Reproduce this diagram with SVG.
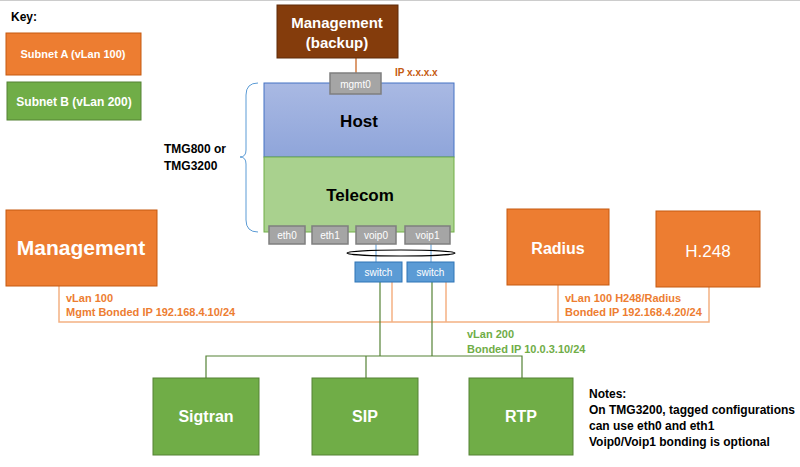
<svg xmlns="http://www.w3.org/2000/svg" width="800" height="467" viewBox="0 0 800 467">
<defs>
<linearGradient id="hostg" x1="0" y1="0" x2="0" y2="1"><stop offset="0" stop-color="#A9B9E3"/><stop offset="1" stop-color="#8FA5DA"/></linearGradient>
</defs>
<style>
text{font-family:"Liberation Sans",Arial,sans-serif}
.b{font-weight:bold}
.or{fill:#ED7D31;stroke:#C55A11;stroke-width:1}
.gr{fill:#70AD47;stroke:#548235;stroke-width:1}
.port{fill:#A5A5A5;stroke:#7F7F7F;stroke-width:1.5}
.sw{fill:#5B9BD5;stroke:#2E75B6;stroke-width:1}
.wt{fill:#fff}
.ol{stroke:#F4B183;stroke-width:1.5;fill:none}
.gl{stroke:#548235;stroke-width:1.2;fill:none}
.bl{stroke:#5B9BD5;stroke-width:1;fill:none}
.ot{fill:#ED7D31;font-size:11px;font-weight:bold}
.gt{fill:#70AD47;font-size:11px;font-weight:bold}
</style>
<rect width="800" height="467" fill="#fff"/>
<line x1="0" y1="0.5" x2="800" y2="0.5" stroke="#ccc"/>
<g id="key">
<text x="11" y="21" font-size="12" class="b">Key:</text>
<rect x="6" y="33" width="135" height="42" class="or"/>
<text x="73" y="58" font-size="11" class="b wt" text-anchor="middle">Subnet A (vLan 100)</text>
<rect x="7" y="82" width="134" height="38" class="gr"/>
<text x="74" y="106" font-size="12" class="b wt" text-anchor="middle">Subnet B (vLan 200)</text>
</g>
<g id="connectors">
<line x1="356" y1="58" x2="356" y2="73" stroke="#C55A11" stroke-width="1.2"/>
<path d="M258,83 Q246,83 246,95 V150 Q246,157 240,157 Q246,157 246,164 V220 Q246,232 258,232" class="bl"/>
<line x1="376" y1="244" x2="376" y2="262" class="bl"/>
<line x1="431" y1="244" x2="431" y2="262" class="bl"/>
<ellipse cx="401" cy="253" rx="54" ry="3" fill="none" stroke="#000" stroke-width="1.2"/>
<path d="M59,286 V322 H709 V287" class="ol"/>
<line x1="558" y1="285" x2="558" y2="322" class="ol"/>
<line x1="392" y1="282" x2="392" y2="322" class="ol"/>
<line x1="446" y1="282" x2="446" y2="322" class="ol"/>
<line x1="380" y1="282" x2="380" y2="356" class="gl"/>
<line x1="432" y1="282" x2="432" y2="356" class="gl"/>
<path d="M206,378 V356 H522 V378" class="gl"/>
<line x1="366" y1="356" x2="366" y2="378" class="gl"/>
</g>
<g id="backup">
<rect x="277" y="5" width="121" height="53" fill="#843C0C" stroke="#5E2A08"/>
<text x="337" y="28" font-size="15" class="b wt" text-anchor="middle">Management</text>
<text x="337" y="48" font-size="15" class="b wt" text-anchor="middle">(backup)</text>
</g>
<text x="395" y="76" font-size="10" class="b" fill="#C55A11">IP x.x.x.x</text>
<g id="host">
<rect x="264" y="83" width="190" height="74" fill="url(#hostg)" stroke="#4472C4" stroke-width="1"/>
<text x="359" y="127" font-size="17" class="b" text-anchor="middle">Host</text>
</g>
<g id="telecom">
<rect x="264" y="157" width="190" height="75" fill="#A9D18E" stroke="#70AD47" stroke-width="1"/>
<text x="360" y="201" font-size="17" class="b" text-anchor="middle">Telecom</text>
</g>
<text x="164" y="153" font-size="12" class="b">TMG800 or</text>
<text x="164" y="170" font-size="12" class="b">TMG3200</text>
<g id="mgmt0"><rect x="330" y="73" width="51" height="21" class="port"/><text x="355.5" y="88" font-size="10" class="wt" text-anchor="middle">mgmt0</text></g>
<g id="eth0"><rect x="269" y="226" width="36" height="18" class="port"/><text x="287" y="239" font-size="10" class="wt" text-anchor="middle">eth0</text></g>
<g id="eth1"><rect x="312" y="226" width="36" height="18" class="port"/><text x="330" y="239" font-size="10" class="wt" text-anchor="middle">eth1</text></g>
<g id="voip0"><rect x="356" y="226" width="40" height="18" class="port"/><text x="376" y="239" font-size="10" class="wt" text-anchor="middle">voip0</text></g>
<g id="voip1"><rect x="405" y="226" width="45" height="18" class="port"/><text x="427.5" y="239" font-size="10" class="wt" text-anchor="middle">voip1</text></g>
<g id="switch1"><rect x="355" y="262" width="47" height="20" class="sw"/><text x="378.5" y="276" font-size="10" class="wt" text-anchor="middle">switch</text></g>
<g id="switch2"><rect x="407" y="262" width="47" height="20" class="sw"/><text x="430.5" y="276" font-size="10" class="wt" text-anchor="middle">switch</text></g>
<g id="management"><rect x="6" y="210" width="151" height="76" class="or"/><text x="81" y="255" font-size="21" class="b wt" text-anchor="middle">Management</text></g>
<g id="radius"><rect x="507" y="209" width="102" height="76" class="or"/><text x="558" y="254" font-size="16" class="b wt" text-anchor="middle">Radius</text></g>
<g id="h248"><rect x="656" y="211" width="104" height="76" class="or"/><text x="708" y="257" font-size="17" class="wt" text-anchor="middle">H.248</text></g>
<g id="sigtran"><rect x="153" y="378" width="106" height="77" class="gr"/><text x="206" y="422" font-size="16" class="b wt" text-anchor="middle">Sigtran</text></g>
<g id="sip"><rect x="312" y="378" width="106" height="77" class="gr"/><text x="365" y="422" font-size="16" class="b wt" text-anchor="middle">SIP</text></g>
<g id="rtp"><rect x="469" y="378" width="104" height="77" class="gr"/><text x="521" y="422" font-size="16" class="b wt" text-anchor="middle">RTP</text></g>
<text x="66" y="302" class="ot">vLan 100</text>
<text x="66" y="316" class="ot">Mgmt Bonded IP 192.168.4.10/24</text>
<text x="565" y="302" class="ot">vLan 100  H248/Radius</text>
<text x="565" y="316" class="ot">Bonded IP 192.168.4.20/24</text>
<text x="467" y="338" class="gt">vLan 200</text>
<text x="467" y="353" class="gt">Bonded IP 10.0.3.10/24</text>
<g font-size="12" font-weight="bold">
<text x="589" y="398">Notes:</text>
<text x="589" y="414">On TMG3200, tagged configurations</text>
<text x="589" y="430">can use eth0 and eth1</text>
<text x="589" y="446">Voip0/Voip1 bonding is optional</text>
</g>
</svg>
